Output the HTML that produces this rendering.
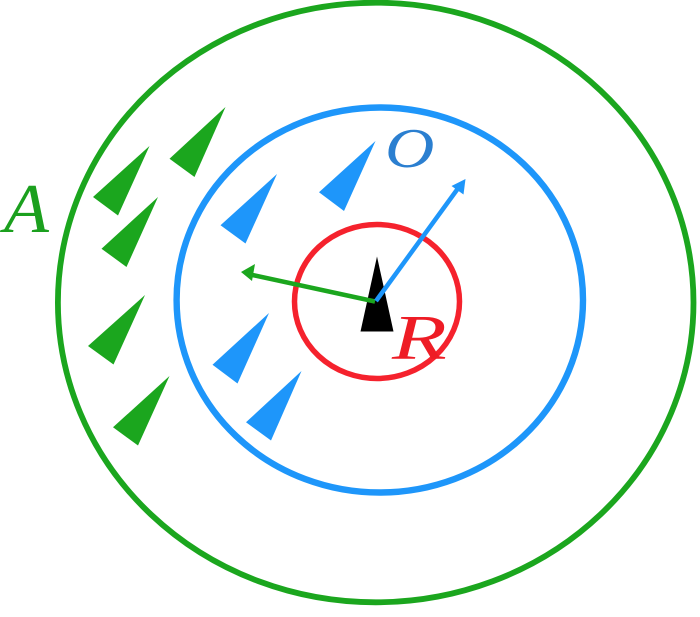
<!DOCTYPE html>
<html><head><meta charset="utf-8"><style>
html,body{margin:0;padding:0;background:#fff}
svg{display:block}
text{font-family:"Liberation Serif",serif;font-style:italic}
</style></head><body>
<svg width="700" height="617" viewBox="0 0 700 617" xmlns="http://www.w3.org/2000/svg">
<rect width="700" height="617" fill="#fff"/>
<ellipse cx="375.700" cy="302.500" rx="317.800" ry="299.800" fill="none" stroke="#1ba61e" stroke-width="5.800"/>
<ellipse cx="379.800" cy="300" rx="203.200" ry="192.500" fill="none" stroke="#1e96fa" stroke-width="6.400"/>
<ellipse cx="377" cy="301.500" rx="82.500" ry="77" fill="none" stroke="#f5222d" stroke-width="5.500"/>
<g fill="#1ba61e">
<polygon points="225.500,107 169.500,158.700 194.500,177"/>
<polygon points="149.500,146 93,197 118,215.500"/>
<polygon points="158,197 101.500,248.700 126.500,267"/>
<polygon points="145,295 88,346 113.500,364.500"/>
<polygon points="169.500,376 113,427.300 138,445.500"/>
</g>
<g fill="#1e96fa">
<polygon points="375.500,141 319,192.300 344,211"/>
<polygon points="277,174 220.500,225.300 245.500,243.500"/>
<polygon points="269,313 212.500,364.700 237.500,383.500"/>
<polygon points="301.500,371 246,422.300 271,440.500"/>
</g>
<polygon points="377,256.500 360.500,331.500 393.500,331.500" fill="#000"/>
<line x1="375" y1="301.500" x2="250" y2="274.500" stroke="#1ba61e" stroke-width="4.500"/>
<polygon points="241,272 255,264 252,281" fill="#1ba61e"/>
<line x1="376" y1="301" x2="459" y2="187" stroke="#1e96fa" stroke-width="4.500"/>
<polygon points="465.500,179 463.500,194.500 451.500,186" fill="#1e96fa"/>
<text transform="translate(4 232) scale(1.05 1)" font-size="70" fill="#1ba01e">A</text>
<text transform="translate(385 167) scale(1.22 1)" font-size="56" fill="#2b7fd0">O</text>
<text transform="translate(392 359) scale(1.4 1)" font-size="64" fill="#ee1c25">R</text>
</svg>
</body></html>
